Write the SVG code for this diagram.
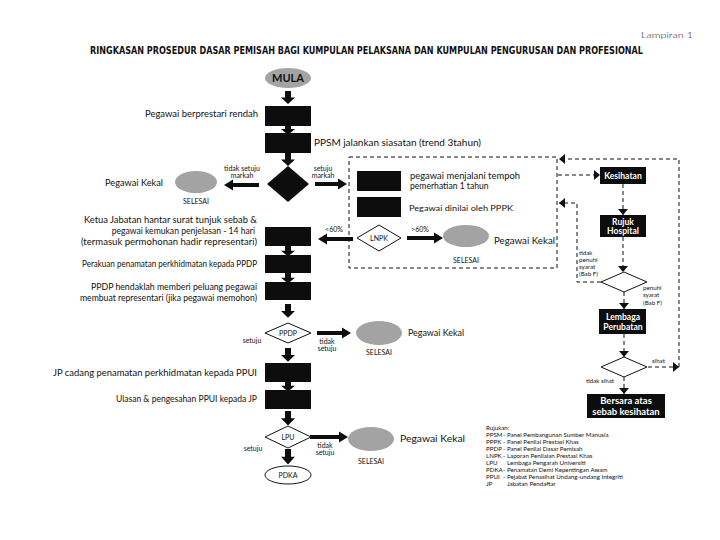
<svg xmlns="http://www.w3.org/2000/svg" width="720" height="540" viewBox="0 0 720 540">
<style>
.t{font-family:Lato,"Liberation Sans",sans-serif;font-size:8.6px;fill:#111}
.s{font-family:Lato,"Liberation Sans",sans-serif;font-size:7px;fill:#111}
.l{font-family:Lato,"Liberation Sans",sans-serif;font-size:6.2px;fill:#111}
.w{font-family:Lato,"Liberation Sans",sans-serif;font-size:8.6px;font-weight:bold;fill:#fff;text-anchor:middle}
.c{text-anchor:middle}
.e{text-anchor:end}
.box{fill:#0d0d0d}
.gr{fill:#a3a3a3}
.ol{fill:#fff;stroke:#111;stroke-width:1}
.da{fill:none;stroke:#111;stroke-width:1;stroke-dasharray:4 3}
.ba{fill:#0d0d0d}
</style>
<defs>
<path id="dn" d="M-3,0 H3 V6 H7 L0,12 L-7,6 H-3 Z"/>
<marker id="dh" viewBox="0 -5 6 10" refX="6" refY="0" markerWidth="6" markerHeight="10" markerUnits="userSpaceOnUse" orient="auto"><path d="M0,-5 L6,0 L0,5 Z" fill="#111"/></marker>
</defs>

<text x="693" y="38" class="t e" style="font-size:8px;font-weight:300" textLength="52" lengthAdjust="spacingAndGlyphs">Lampiran 1</text>
<text x="90" y="54" style="font-family:'DejaVu Sans Condensed','DejaVu Sans',sans-serif;font-size:10px;font-weight:bold;fill:#111" textLength="553" lengthAdjust="spacingAndGlyphs">RINGKASAN PROSEDUR DASAR PEMISAH BAGI KUMPULAN PELAKSANA DAN KUMPULAN PENGURUSAN DAN PROFESIONAL</text>

<g id="connectors">
<use href="#dn" transform="translate(288,91) scale(1,1.08)" class="ba"/>
<use href="#dn" transform="translate(288,123)" class="ba"/>
<use href="#dn" transform="translate(288,153) scale(1,1.08)" class="ba"/>
<use href="#dn" transform="translate(288,245) scale(1,0.95)" class="ba"/>
<use href="#dn" transform="translate(288,272) scale(1,0.95)" class="ba"/>
<use href="#dn" transform="translate(288,304) scale(1,1.15)" class="ba"/>
<use href="#dn" transform="translate(288,348) scale(1,1.15)" class="ba"/>
<use href="#dn" transform="translate(288,380) scale(1,0.95)" class="ba"/>
<use href="#dn" transform="translate(288,411) scale(1,1.2)" class="ba"/>
<use href="#dn" transform="translate(288,449) scale(1,1.3)" class="ba"/>
<polygon class="ba" points="259,183 233,183 233,179.5 224,185 233,190.5 233,187 259,187"/>
<polygon class="ba" points="315,182 338,182 338,178.5 347,184 338,189.5 338,186 315,186"/>
<polygon class="ba" points="353,237 327,237 327,233.5 318,239 327,244.5 327,241 353,241"/>
<polygon class="ba" points="407,236 434,236 434,232.5 443,238 434,243.5 434,240 407,240"/>
<polygon class="ba" points="317,331 342,331 342,327.5 351,333 342,338.5 342,335 317,335"/>
<polygon class="ba" points="310,435 339,435 339,431.5 348,437 339,442.5 339,439 310,439"/>
<rect class="da" x="349" y="157" width="208" height="111"/>
<path class="da" d="M558,175 H600" marker-end="url(#dh)"/>
<path class="da" d="M623,184 V215" marker-end="url(#dh)"/>
<path class="da" d="M623,237 V272" marker-end="url(#dh)"/>
<path class="da" d="M624,292 V309" marker-end="url(#dh)"/>
<path class="da" d="M624,334 V357" marker-end="url(#dh)"/>
<path class="da" d="M624,377 V394" marker-end="url(#dh)"/>
<path class="da" d="M648,367 H679" marker-end="url(#dh)"/>
<path class="da" d="M679,367 V159 H559" marker-end="url(#dh)"/>
<path class="da" d="M601,282 H577 V203 H559" marker-end="url(#dh)"/>
</g>

<g id="mula"><ellipse class="gr" cx="288" cy="78" rx="23" ry="10"/><text x="288" y="82" class="c" style="font-family:Lato,'Liberation Sans',sans-serif;font-size:11px;font-weight:bold;fill:#111">MULA</text></g>
<g id="n1"><rect class="box" x="265" y="106" width="46" height="20"/><text x="258" y="117" class="t e" textLength="113" lengthAdjust="spacingAndGlyphs">Pegawai berprestari rendah</text></g>
<g id="n2"><rect class="box" x="265" y="133" width="46" height="20"/><text x="314" y="146" class="t" textLength="167" lengthAdjust="spacingAndGlyphs">PPSM jalankan siasatan (trend 3tahun)</text></g>
<g id="d1"><polygon class="box" points="288,166 309,184 288,202 267,184"/>
<text x="242" y="171" class="s c">tidak setuju</text><text x="242" y="178" class="s c">markah</text>
<text x="323" y="171" class="s c">setuju</text><text x="323" y="178" class="s c">markah</text></g>
<g id="kekal1"><ellipse class="gr" cx="196" cy="182" rx="21" ry="11"/><text x="105" y="186" class="t" textLength="58" lengthAdjust="spacingAndGlyphs">Pegawai Kekal</text><text x="196" y="204" class="s c">SELESAI</text></g>
<g id="n3"><rect class="box" x="357" y="171" width="44" height="20"/><text x="410" y="179" class="t" textLength="110" lengthAdjust="spacingAndGlyphs">pegawai menjalani tempoh</text><text x="410" y="189" class="t">pemerhatian 1 tahun</text></g>
<g id="n4"><rect class="box" x="357" y="197" width="44" height="20"/><text x="409" y="211" class="t" style="font-size:8px" textLength="104" lengthAdjust="spacingAndGlyphs">Pegawai dinilai oleh PPPK</text></g>
<g id="lnpk"><polygon class="ol" points="379,225 401,238 379,251 357,238"/><text x="379" y="241" class="s c">LNPK</text>
<text x="334" y="232" class="s c">&lt;60%</text><text x="420" y="232" class="s c">&gt;60%</text></g>
<g id="kekal2"><ellipse class="gr" cx="466" cy="236" rx="23" ry="11"/><text x="494" y="244" class="t" textLength="61" lengthAdjust="spacingAndGlyphs">Pegawai Kekal</text><text x="466" y="263" class="s c">SELESAI</text></g>
<g id="n5"><rect class="box" x="265" y="227" width="46" height="19"/>
<text x="257" y="223" class="t e" textLength="173" lengthAdjust="spacingAndGlyphs">Ketua Jabatan hantar surat tunjuk sebab &amp;</text>
<text x="255" y="234" class="t e">pegawai kemukan penjelasan - 14 hari</text>
<text x="257" y="245" class="t e" textLength="176" lengthAdjust="spacingAndGlyphs">(termasuk permohonan hadir representari)</text></g>
<g id="n6"><rect class="box" x="265" y="255" width="46" height="18"/><text x="257" y="267" class="t e" textLength="175" lengthAdjust="spacingAndGlyphs">Perakuan penamatan perkhidmatan kepada PPDP</text></g>
<g id="n7"><rect class="box" x="265" y="282" width="46" height="18"/>
<text x="257" y="290" class="t e" textLength="166" lengthAdjust="spacingAndGlyphs">PPDP hendaklah memberi peluang pegawai</text>
<text x="257" y="301" class="t e" textLength="177" lengthAdjust="spacingAndGlyphs">membuat representari (jika pegawai memohon)</text></g>
<g id="ppdp"><polygon class="ol" points="288,323 311,333 288,343 265,333"/><text x="288" y="336" class="s c">PPDP</text>
<text x="252" y="343" class="s c">setuju</text><text x="327" y="344" class="s c">tidak</text><text x="327" y="351" class="s c">setuju</text></g>
<g id="kekal3"><ellipse class="gr" cx="379" cy="333" rx="23" ry="12"/><text x="408" y="336" class="t" textLength="56" lengthAdjust="spacingAndGlyphs">Pegawai Kekal</text><text x="379" y="355" class="s c">SELESAI</text></g>
<g id="n8"><rect class="box" x="265" y="363" width="46" height="19"/><text x="257" y="376" class="t e" textLength="204" lengthAdjust="spacingAndGlyphs">JP cadang penamatan perkhidmatan kepada PPUI</text></g>
<g id="n9"><rect class="box" x="265" y="390" width="46" height="19"/><text x="257" y="402" class="t e" textLength="141" lengthAdjust="spacingAndGlyphs">Ulasan &amp; pengesahan PPUI kepada JP</text></g>
<g id="lpu"><polygon class="ol" points="288,426 311,437 288,448 265,437"/><text x="288" y="440" class="s c">LPU</text>
<text x="253" y="451" class="s c">setuju</text><text x="325" y="448" class="s c">tidak</text><text x="325" y="455" class="s c">setuju</text></g>
<g id="kekal4"><ellipse class="gr" cx="371" cy="439" rx="23" ry="12"/><text x="400" y="442" class="t" style="font-size:9.5px" textLength="65" lengthAdjust="spacingAndGlyphs">Pegawai Kekal</text><text x="371" y="464" class="s c">SELESAI</text></g>
<g id="pdka"><ellipse class="ol" cx="288" cy="475" rx="23" ry="9"/><text x="288" y="478" class="s c">PDKA</text></g>

<g id="kesihatan"><rect class="box" x="600" y="167" width="46" height="17"/><text x="623" y="179" class="w">Kesihatan</text></g>
<g id="rujuk"><rect class="box" x="600" y="215" width="46" height="22"/><text x="623" y="225" class="w">Rujuk</text><text x="623" y="234" class="w">Hospital</text></g>
<g id="dk1"><polygon class="ol" points="624,272 647,282 624,292 601,282"/>
<text x="579" y="255" class="l">tidak</text><text x="579" y="262" class="l">penuhi</text><text x="579" y="269" class="l">syarat</text><text x="579" y="276" class="l">(Bab F)</text>
<text x="643" y="290" class="l">penuhi</text><text x="643" y="297" class="l">syarat</text><text x="643" y="305" class="l">(Bab F)</text></g>
<g id="lembaga"><rect class="box" x="599" y="309" width="47" height="25"/><text x="623" y="320" class="w">Lembaga</text><text x="623" y="330" class="w">Perubatan</text></g>
<g id="dk2"><polygon class="ol" points="624,357 647,367 624,377 601,367"/>
<text x="652" y="363" class="l">sihat</text><text x="586" y="383" class="l">tidak sihat</text></g>
<g id="bersara"><rect class="box" x="587" y="394" width="78" height="24"/><text x="626" y="404" class="w" style="font-size:9.5px">Bersara atas</text><text x="626" y="415" class="w" style="font-size:9.5px">sebab kesihatan</text></g>

<g id="legend">
<text x="486" y="430" class="l">Rujukan:</text>
<text x="486" y="437" class="l">PPSM</text><text x="503" y="437" class="l">- Panel Pembangunan Sumber Manusia</text>
<text x="486" y="444" class="l">PPPK</text><text x="503" y="444" class="l">- Panel Penilai Prestasi Khas</text>
<text x="486" y="451" class="l">PPDP</text><text x="503" y="451" class="l">- Panel Penilai Dasar Pemisah</text>
<text x="486" y="458" class="l">LNPK</text><text x="503" y="458" class="l">- Laporan Penilaian Prestasi Khas</text>
<text x="486" y="465" class="l">LPU</text><text x="507" y="465" class="l">Lembaga Pengarah Universiti</text>
<text x="486" y="472" class="l">PDKA</text><text x="503" y="472" class="l">- Penamatan Demi Kepentingan Awam</text>
<text x="486" y="479" class="l">PPUI</text><text x="503" y="479" class="l">- Pejabat Penasihat Undang-undang Integriti</text>
<text x="486" y="486" class="l">JP</text><text x="507" y="486" class="l">Jabatan Pendaftar</text>
</g>
</svg>
